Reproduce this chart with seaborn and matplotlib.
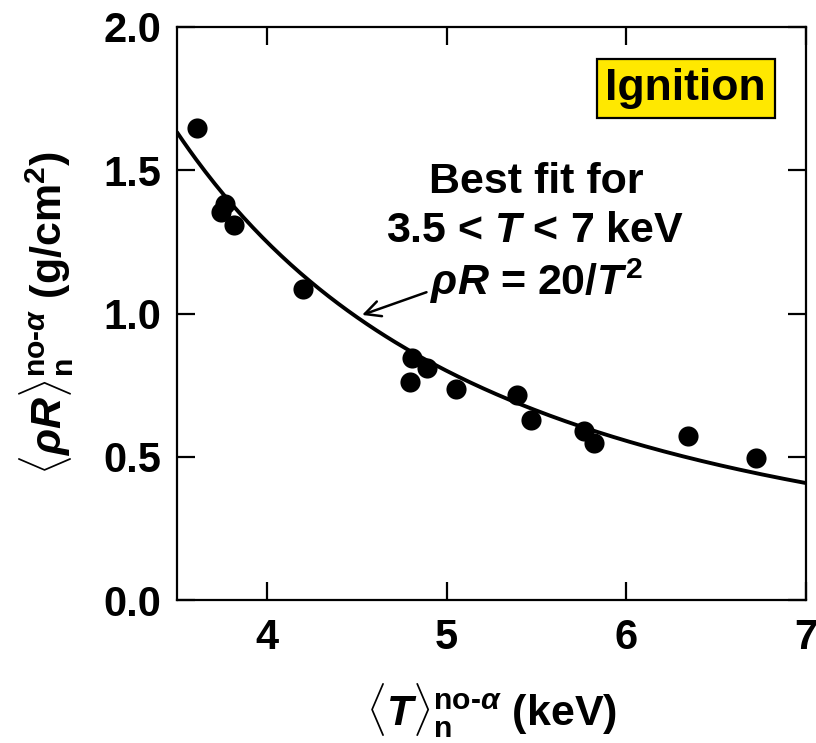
import numpy as np
import pandas as pd
import matplotlib
matplotlib.use("Agg")
import matplotlib.pyplot as plt
import seaborn as sns

# ---- data ----
temperature_keV = [3.613, 3.746, 3.768, 3.819, 4.201, 4.799, 4.805, 4.891, 5.050,
                   5.394, 5.468, 5.766, 5.823, 6.343, 6.724]
rhoR_gcm2 = [1.646, 1.353, 1.382, 1.309, 1.084, 0.762, 0.844, 0.809, 0.735,
             0.716, 0.628, 0.590, 0.547, 0.572, 0.497]
fit_coeff = 20.0          # rhoR = 20 / T^2 (stated best fit)
fit_range = [3.5, 7.0]
x_ticks = [4, 5, 6, 7]
y_ticks = [0.0, 0.5, 1.0, 1.5, 2.0]

df = pd.DataFrame({"T": temperature_keV, "rhoR": rhoR_gcm2})
T_fit = np.linspace(fit_range[0], fit_range[1], 200)
fit_df = pd.DataFrame({"T": T_fit, "rhoR": fit_coeff / T_fit**2})

sns.set_theme(style="ticks")
plt.rcParams["font.family"] = ["Liberation Sans", "DejaVu Sans"]
plt.rcParams["font.weight"] = "bold"
plt.rcParams["text.color"] = "black"
plt.rcParams["axes.labelcolor"] = "black"
plt.rcParams["xtick.color"] = "black"
plt.rcParams["ytick.color"] = "black"
plt.rcParams["xtick.labelcolor"] = "black"
plt.rcParams["ytick.labelcolor"] = "black"
plt.rcParams["mathtext.fontset"] = "custom"
plt.rcParams["mathtext.rm"] = "Liberation Sans:bold"
plt.rcParams["mathtext.bf"] = "Liberation Sans:bold"
plt.rcParams["mathtext.it"] = "Liberation Sans:italic:bold"
plt.rcParams["mathtext.sf"] = "Liberation Sans:bold"

fig = plt.figure(figsize=(8.16, 7.43), dpi=100)
ax = fig.add_axes([177/816, 1 - 600/743, (806-177)/816, 573/743])

sns.lineplot(data=fit_df, x="T", y="rhoR", ax=ax, color="black", linewidth=2.8)
sns.scatterplot(data=df, x="T", y="rhoR", ax=ax, color="black", s=210,
                edgecolor="black", linewidth=0, zorder=3)

ax.set_xlim(3.5, 7.0)
ax.set_ylim(0.0, 2.0)
ax.set_xticks(x_ticks)
ax.set_yticks(y_ticks)
ax.set_xticklabels([str(v) for v in x_ticks])
ax.set_yticklabels([f"{v:.1f}" for v in y_ticks])

for s in ax.spines.values():
    s.set_visible(True)
    s.set_linewidth(1.6)
    s.set_color("black")
ax.tick_params(axis="both", which="major", direction="in", length=13, width=1.6,
               labelsize=30, top=True, right=True, color="black", labelcolor="black")
ax.tick_params(axis="x", pad=13)
ax.tick_params(axis="y", pad=11)
for lab in ax.get_xticklabels() + ax.get_yticklabels():
    lab.set_fontweight("bold")

ax.set_xlabel(r"$\langle T\rangle_{\mathrm{n}}^{\mathrm{no}\text{-}\alpha}$ (keV)",
              fontsize=31, fontweight="bold", labelpad=17, color="black")
ax.set_ylabel(r"$\langle\rho R\rangle_{\mathrm{n}}^{\mathrm{no}\text{-}\alpha}$ (g/cm$^\mathrm{2}$)",
              fontsize=31, fontweight="bold", labelpad=20, color="black")

ax.text(5.50, 1.42, "Best fit for", ha="center", va="baseline",
        fontsize=31, fontweight="bold", color="black")
ax.text(5.49, 1.25, r"3.5 < $T$ < 7 keV", ha="center", va="baseline",
        fontsize=31, fontweight="bold", color="black")
ax.annotate(r"$\rho R$ = 20/$T^\mathrm{2}$", xy=(4.53, 0.995), xytext=(5.50, 1.065),
            ha="center", va="baseline", fontsize=31, fontweight="bold", color="black",
            arrowprops=dict(arrowstyle="->", color="black", lw=1.8,
                            mutation_scale=28, shrinkA=0, shrinkB=0,
                            relpos=(0.0, 0.3)))

ax.text(6.331, 1.784, "Ignition", ha="center", va="center", fontsize=32,
        fontweight="bold", color="black",
        bbox=dict(boxstyle="square,pad=0.2", facecolor="#FFE800",
                  edgecolor="black", linewidth=1.6))

ax.set_facecolor("white")
fig.patch.set_facecolor("white")
fig.savefig("out.png", dpi=100)
